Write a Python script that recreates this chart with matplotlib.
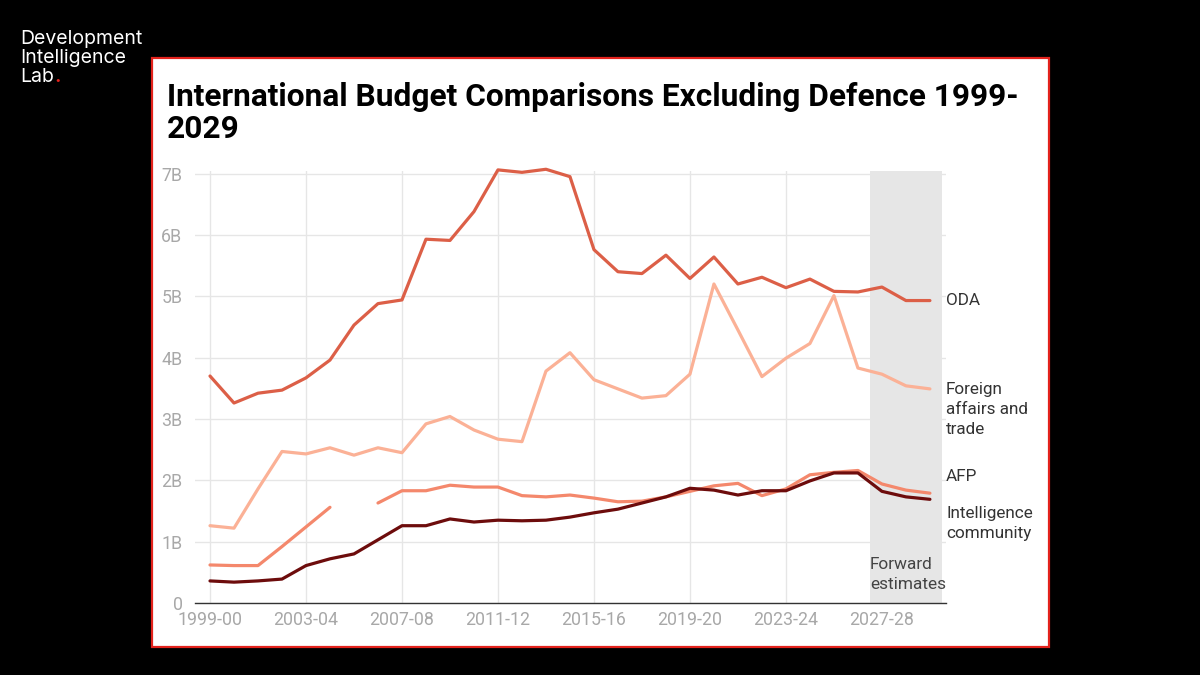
import matplotlib
matplotlib.use("Agg")
import matplotlib.pyplot as plt
from matplotlib.patches import Rectangle
import numpy as np

# fiscal years 1999-00 .. 2029-30
start_years = list(range(1999, 2030))
year_labels = [f"{y}-{str(y + 1)[-2:]}" for y in start_years]

oda = [3.70, 3.26, 3.42, 3.47, 3.67, 3.96, 4.53, 4.88, 4.94, 5.93, 5.91,
       6.38, 7.06, 7.02, 7.07, 6.95, 5.76, 5.40, 5.37, 5.67, 5.29, 5.64,
       5.20, 5.31, 5.14, 5.28, 5.08, 5.07, 5.15, 4.93, 4.93]
foreign_affairs = [1.26, 1.22, 1.86, 2.47, 2.43, 2.53, 2.41, 2.53, 2.45, 2.92,
                   3.04, 2.82, 2.67, 2.63, 3.78, 4.08, 3.64, 3.49, 3.34, 3.38,
                   3.73, 5.20, 4.45, 3.69, 3.99, 4.23, 5.01, 3.83, 3.73, 3.54,
                   3.49]
afp = [0.62, 0.61, 0.61, 0.92, 1.24, 1.56, np.nan, 1.63, 1.83, 1.83, 1.92,
       1.89, 1.89, 1.75, 1.73, 1.76, 1.71, 1.65, 1.66, 1.73, 1.82, 1.91,
       1.95, 1.75, 1.86, 2.09, 2.13, 2.16, 1.94, 1.84, 1.79]
intelligence = [0.36, 0.34, 0.36, 0.39, 0.61, 0.72, 0.80, 1.03, 1.26, 1.26,
                1.37, 1.32, 1.35, 1.34, 1.35, 1.40, 1.47, 1.53, 1.63, 1.73,
                1.87, 1.84, 1.76, 1.83, 1.83, 1.99, 2.12, 2.12, 1.82, 1.73,
                1.69]

series = [
    ("Foreign\naffairs and\ntrade", foreign_affairs, "#fbb196"),
    ("AFP", afp, "#f4886c"),
    ("Intelligence\ncommunity", intelligence, "#6d0c0c"),
    ("ODA", oda, "#dc5f47"),
]
label_y = {"ODA": 4.93, "Foreign\naffairs and\ntrade": 3.15,
           "AFP": 2.07, "Intelligence\ncommunity": 1.29}

forecast_from = "2027-28"

W, H = 1200, 675
fig = plt.figure(figsize=(12, 6.75), dpi=100, facecolor="black")

panel = Rectangle((152 / W, 1 - 647 / H), 897 / W, 589 / H,
                  transform=fig.transFigure, facecolor="white",
                  edgecolor="#e3221c", linewidth=1.6, zorder=-5)
fig.patches.append(panel)

# logo
logo_kw = dict(color="white", fontsize=14, family="Inter", va="center")
fig.text(20 / W, 1 - 39 / H, "Development", **logo_kw)
fig.text(20 / W, 1 - 58 / H, "Intelligence", **logo_kw)
lab = fig.text(20 / W, 1 - 77 / H, "Lab", **logo_kw)
fig.canvas.draw()
bb = lab.get_window_extent()
fig.text(bb.x1 / W + 0.0005, 1 - 77 / H, ".", color="#e3221c",
         fontsize=14, family="Inter", fontweight="bold", va="center")

fig.text(167 / W, 1 - 113 / H,
         "International Budget Comparisons Excluding Defence 1999-\n2029",
         fontsize=22.8, fontweight="bold", family="Roboto", color="black",
         va="center", linespacing=1.1)

ax = fig.add_axes([195 / W, 1 - 603 / H, (946 - 195) / W, (603 - 170.5) / H])
ax.set_facecolor("none")
x = np.arange(len(year_labels))

fi = year_labels.index(forecast_from)
ax.axvspan(fi - 0.5, len(year_labels) - 0.5, color="#e6e6e6", lw=0, zorder=0)

for name, vals, col in series:
    ax.plot(x, vals, color=col, lw=2.3, solid_capstyle="round",
            solid_joinstyle="round", zorder=3, clip_on=False)

ax.set_xlim(-0.625, 30.67)
ax.set_ylim(0, 7.05)
ticks = x[::4]
ax.set_xticks(ticks)
ax.set_xticklabels([year_labels[i] for i in ticks])
ax.set_yticks(range(8))
ax.set_yticklabels(["0"] + [f"{i}B" for i in range(1, 8)])
ax.grid(True, color="#e6e6e6", lw=1.0, zorder=1)
ax.set_axisbelow(True)
for side in ("top", "right", "left"):
    ax.spines[side].set_visible(False)
ax.spines["bottom"].set_color("#333333")
ax.spines["bottom"].set_linewidth(1.0)
ax.tick_params(axis="both", length=0, colors="#a8a8a8", labelsize=12.8)
ax.tick_params(axis="y", pad=9)
ax.tick_params(axis="x", pad=6)
for t in ax.get_xticklabels() + ax.get_yticklabels():
    t.set_family("Roboto")

for name, vals, col in series:
    ax.text(30.67, label_y[name], name, fontsize=12.3, family="Roboto",
            color="#333333", va="center", ha="left", linespacing=1.42,
            clip_on=False)

ax.text(fi - 0.5, 0.47, "Forward\nestimates", fontsize=12.4, family="Roboto",
        color="#444444", va="center", ha="left", linespacing=1.4)

fig.savefig("out.png", dpi=100, facecolor="black")
